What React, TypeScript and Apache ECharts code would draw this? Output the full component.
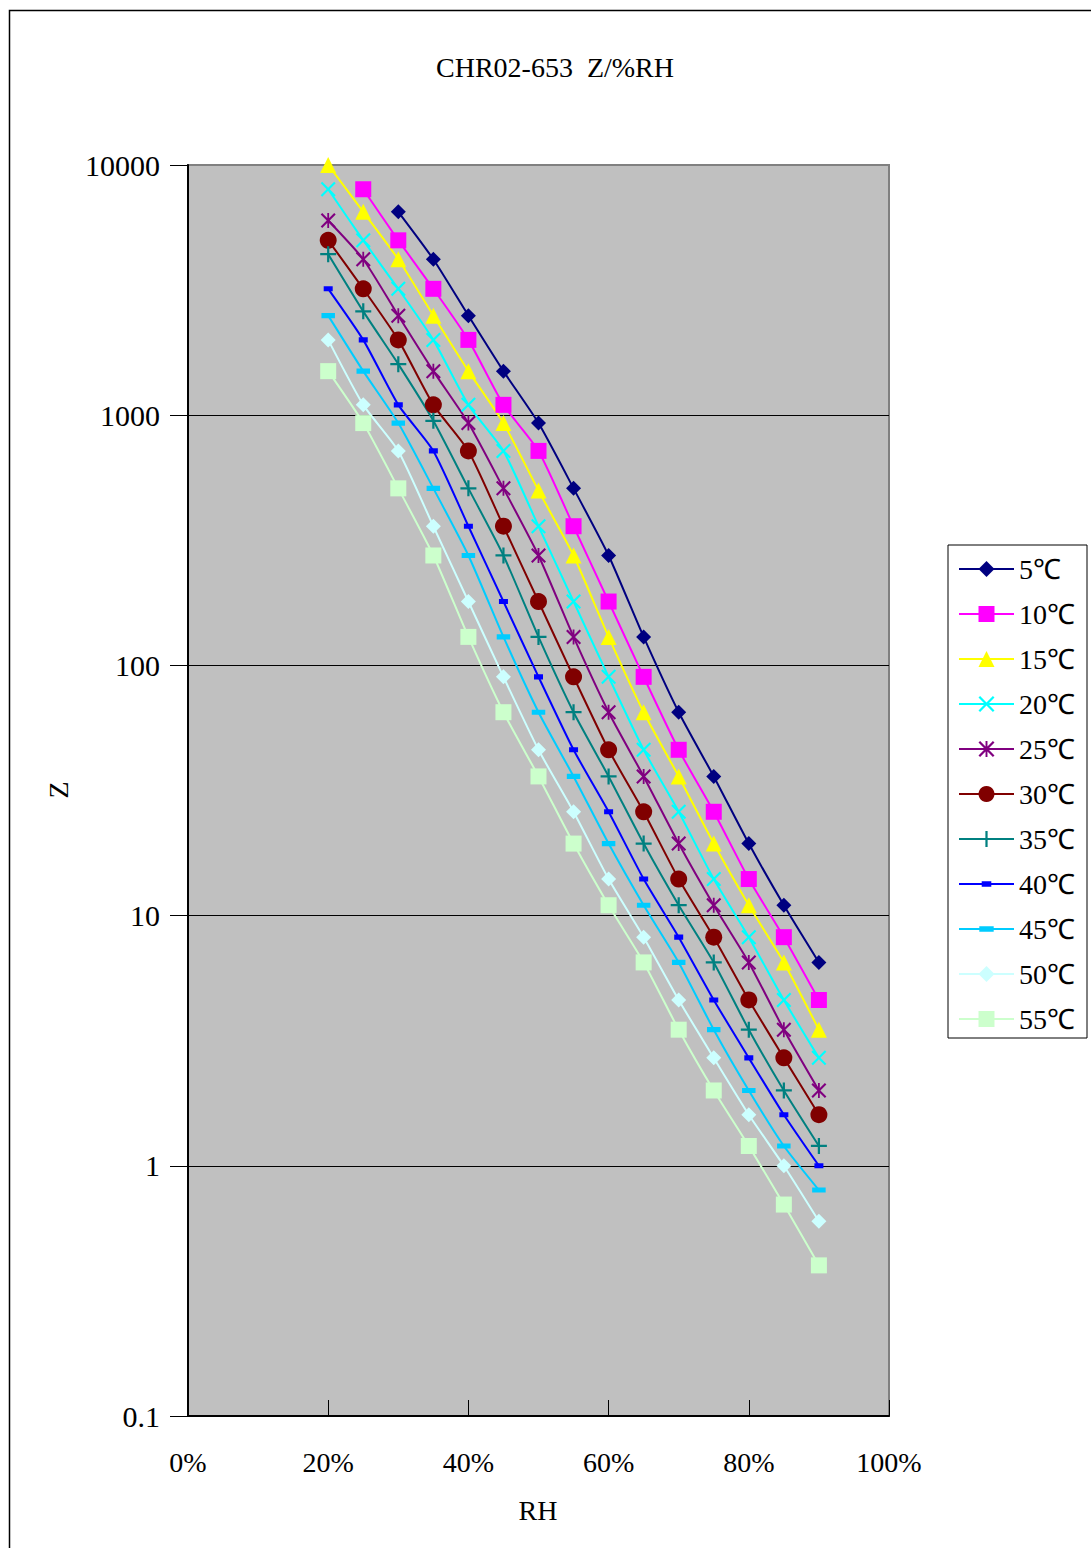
import React, { useEffect, useRef } from "react";
import * as echarts from "echarts";

const RH = [20, 25, 30, 35, 40, 45, 50, 55, 60, 65, 70, 75, 80, 85, 90];
const X_TICKS = [0, 20, 40, 60, 80, 100];

const z5 = [null, null, 6500, 4200, 2500, 1500, 930, 510, 275, 130, 65, 36, 19.4, 11, 6.5];
const z10 = [null, 8000, 5000, 3200, 2000, 1100, 720, 360, 180, 90, 46, 26, 14, 8.2, 4.6];
const z15 = [10000, 6500, 4200, 2500, 1500, 930, 500, 275, 130, 65, 36, 19.4, 11, 6.5, 3.5];
const z20 = [8000, 5000, 3200, 2000, 1100, 720, 360, 180, 90, 46, 26, 14, 8.2, 4.6, 2.7];
const z25 = [6000, 4200, 2500, 1500, 930, 510, 275, 130, 65, 36, 19.4, 11, 6.5, 3.5, 2.0];
const z30 = [5000, 3200, 2000, 1100, 720, 360, 180, 90, 46, 26, 14, 8.2, 4.6, 2.7, 1.6];
const z35 = [4400, 2600, 1600, 950, 510, 275, 130, 65, 36, 19.4, 11, 6.5, 3.5, 2.0, 1.2];
const z40 = [3200, 2000, 1100, 720, 360, 180, 90, 46, 26, 14, 8.2, 4.6, 2.7, 1.6, 1.0];
const z45 = [2500, 1500, 930, 510, 275, 130, 65, 36, 19.4, 11, 6.5, 3.5, 2.0, 1.2, 0.8];
const z50 = [2000, 1100, 720, 360, 180, 90, 46, 26, 14, 8.2, 4.6, 2.7, 1.6, 1.0, 0.6];
const z55 = [1500, 930, 510, 275, 130, 65, 36, 19.4, 11, 6.5, 3.5, 2.0, 1.2, 0.7, 0.4];

const SERIES_NAMES = ["5℃", "10℃", "15℃", "20℃", "25℃", "30℃", "35℃", "40℃", "45℃", "50℃", "55℃"];
const SERIES_VALUES = [z5, z10, z15, z20, z25, z30, z35, z40, z45, z50, z55];

const COLORS = [
  "#000080", "#FF00FF", "#FFFF00", "#00FFFF", "#800080", "#800000",
  "#008080", "#0000FF", "#00CCFF", "#CCFFFF", "#CCFFCC",
];

const X_PATH = "path://M0,1L1,0L5,4L9,0L10,1L6,5L10,9L9,10L5,6L1,10L0,9L4,5Z";
const STAR_PATH =
  "path://M0,1L1,0L5,4L9,0L10,1L6,5L10,9L9,10L5,6L1,10L0,9L4,5ZM4.4,0L5.6,0L5.6,10L4.4,10Z";
const PLUS_PATH = "path://M4.3,0H5.7V4.3H10V5.7H5.7V10H4.3V5.7H0V4.3H4.3Z";
const CORNERS = "M0,0L0.01,0L0,0.01ZM10,10L9.99,10L10,9.99Z";
const DASH40 = "path://" + CORNERS + "M2,3.3H8V6.7H2Z";
const DASH45 = "path://" + CORNERS + "M0.5,3.3H9.5V6.7H0.5Z";

const SYMBOLS: any[] = [
  ["diamond", 15],
  ["rect", 16],
  ["triangle", 16],
  [X_PATH, 15],
  [STAR_PATH, 15],
  ["circle", 17],
  [PLUS_PATH, 16],
  [DASH40, 15],
  [DASH45, 15],
  ["diamond", 15],
  ["rect", 16],
];

const FONT = "'Liberation Serif', 'Times New Roman', serif";

export default function App() {
  const ref = useRef<HTMLDivElement>(null);
  useEffect(() => {
    if (!ref.current) return;
    const chart = echarts.init(ref.current, undefined, { renderer: "svg" });
    const series = SERIES_NAMES.map((name, i) => ({
      name,
      type: "line",
      smooth: 0.2,
      symbol: SYMBOLS[i][0],
      symbolSize: SYMBOLS[i][1],
      showSymbol: true,
      data: RH.map((x, j) => (SERIES_VALUES[i][j] == null ? null : [x, SERIES_VALUES[i][j]])).filter(
        (d) => d !== null
      ),
      lineStyle: { color: COLORS[i], width: 2 },
      itemStyle: { color: COLORS[i], opacity: 1 },
      emphasis: { disabled: true },
    }));
    chart.setOption({
      animation: false,
      backgroundColor: "#ffffff",
      grid: {
        left: 188,
        top: 165,
        width: 701,
        height: 1251,
        show: true,
        backgroundColor: "#C0C0C0",
        borderColor: "#808080",
        borderWidth: 2,
      },
      legend: {
        orient: "vertical",
        left: 948,
        top: 545,
        itemWidth: 55,
        itemHeight: 20,
        itemGap: 17,
        padding: [10, 12, 5, 10],
        borderColor: "#000",
        borderWidth: 1,
        backgroundColor: "#fff",
        textStyle: { fontSize: 28, lineHeight: 28, fontFamily: FONT, color: "#000" },
        data: SERIES_NAMES,
      },
      xAxis: {
        type: "value",
        min: 0,
        max: 100,
        interval: 20,
        axisLine: { show: true, lineStyle: { color: "#000", width: 2 } },
        axisTick: { show: true, inside: true, length: 16, lineStyle: { color: "#000", width: 1 } },
        splitLine: { show: false },
        axisLabel: {
          formatter: (v: number) => (X_TICKS.includes(v) ? v + "%" : ""),
          fontSize: 28,
          fontFamily: FONT,
          color: "#000",
          margin: 32,
        },
      },
      yAxis: {
        type: "log",
        logBase: 10,
        min: 0.1,
        max: 10000,
        axisLine: { show: true, onZero: false, lineStyle: { color: "#000", width: 2 } },
        axisTick: { show: true, inside: false, length: 18, lineStyle: { color: "#000", width: 1 } },
        splitLine: { show: true, showMaxLine: false, lineStyle: { color: "#000", width: 1 } },
        axisLabel: {
          formatter: (v: number) => String(v),
          fontSize: 30,
          fontFamily: FONT,
          color: "#000",
          margin: 28,
        },
      },
      graphic: [
        {
          type: "rect",
          silent: true,
          z: -10,
          shape: { x: 9.5, y: 10.5, width: 1300, height: 1700 },
          style: { fill: "none", stroke: "#000", lineWidth: 1.5 },
        },
        {
          type: "text",
          x: 555,
          y: 67,
          style: {
            text: "CHR02-653  Z/%RH",
            fontSize: 28,
            fontFamily: FONT,
            fill: "#000",
            align: "center",
            verticalAlign: "middle",
          },
        },
        {
          type: "text",
          x: 538,
          y: 1510,
          style: {
            text: "RH",
            fontSize: 28,
            fontFamily: FONT,
            fill: "#000",
            align: "center",
            verticalAlign: "middle",
          },
        },
        {
          type: "text",
          x: 58,
          y: 790,
          rotation: Math.PI / 2,
          style: {
            text: "Z",
            fontSize: 28,
            fontFamily: FONT,
            fill: "#000",
            align: "center",
            verticalAlign: "middle",
          },
        },
      ],
      series,
    });
    return () => chart.dispose();
  }, []);
  return (
    <div
      ref={ref}
      style={{ position: "absolute", left: 0, top: 0, width: 1091, height: 1548 }}
    />
  );
}
